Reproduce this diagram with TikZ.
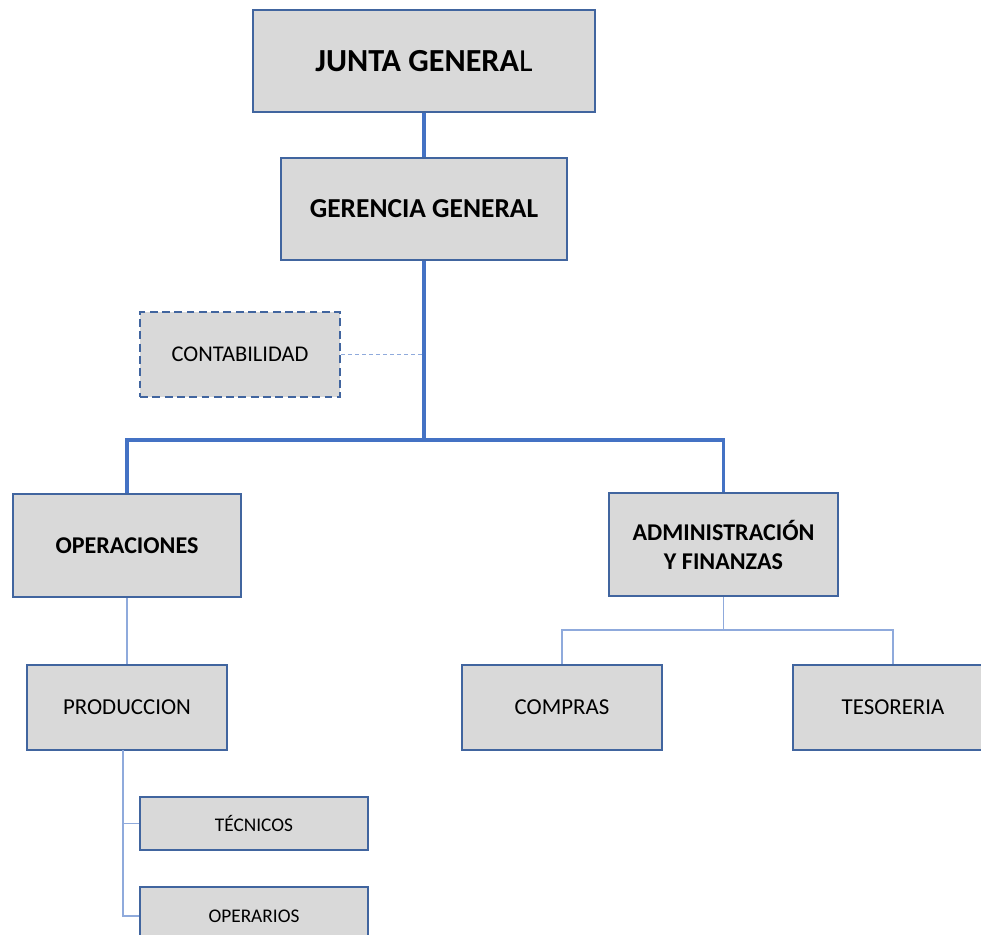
\documentclass[tikz,border=0pt]{standalone}
\usepackage{fontspec}
\setmainfont{Carlito}
\usepackage{xcolor}

\definecolor{boxgray}{HTML}{D9D9D9}
\definecolor{boxblue}{HTML}{41659F}
\definecolor{linkblue}{HTML}{4472C4}
\definecolor{lightblue}{HTML}{8FAADC}

\tikzset{
  unitbox/.style={draw=boxblue,fill=boxgray,line width=1.2pt,inner sep=0pt,align=center},
  mainline/.style={linkblue,line width=1.9pt},
  subline/.style={lightblue,line width=0.8pt},
  dotline/.style={lightblue,line width=0.7pt,dash pattern=on 2pt off 2pt}
}

\begin{document}
\begin{tikzpicture}[x=0.02cm,y=-0.02cm]
%\draw[step=50,gray,very thin] (0,0) grid (981,934); %background grid
\useasboundingbox (0,0) rectangle (981,934);
\clip (0,0) rectangle (981,934);

% top levels
\node[unitbox,minimum width=6.84cm,minimum height=2.04cm,font=\fontsize{18.3}{21}\selectfont] (junta) at (424,61) {{\bfseries JUNTA GENERA}L};
\node[unitbox,minimum width=5.72cm,minimum height=2.04cm,font=\fontsize{15.6}{18}\selectfont\bfseries] (gerencia) at (424,209) {GERENCIA GENERAL};
\node[unitbox,dash pattern=on 4.5pt off 2.5pt,minimum width=4cm,minimum height=1.7cm,font=\fontsize{12.8}{15}\selectfont] (conta) at (240,354.5) {CONTABILIDAD};

% second level
\node[unitbox,minimum width=4.56cm,minimum height=2.06cm,font=\fontsize{13.7}{16}\selectfont\bfseries] (ops) at (127,545.5) {OPERACIONES};
\node[unitbox,minimum width=4.58cm,minimum height=2.06cm,font=\fontsize{13.7}{16.5}\selectfont\bfseries] (admin) at (723.5,544.5) {ADMINISTRACIÓN\\Y FINANZAS};

% third level
\node[unitbox,minimum width=4cm,minimum height=1.7cm,font=\fontsize{13}{15}\selectfont] (prod) at (127,707.5) {PRODUCCION};
\node[unitbox,minimum width=4cm,minimum height=1.7cm,font=\fontsize{13}{15}\selectfont] (compras) at (562,707.5) {COMPRAS};
\node[unitbox,minimum width=4cm,minimum height=1.7cm,font=\fontsize{13}{15}\selectfont] (teso) at (893,707.5) {TESORERIA};

% fourth level
\node[unitbox,minimum width=4.56cm,minimum height=1.06cm,font=\fontsize{11}{13}\selectfont] (tecnicos) at (254,823.5) {TÉCNICOS};
\node[unitbox,minimum width=4.56cm,minimum height=1.16cm,font=\fontsize{11}{13}\selectfont] (operarios) at (254,916) {OPERARIOS};

% connectors
\coordinate (busL) at (127,440);
\coordinate (busR) at (723.5,440);
\coordinate (bus) at (gerencia.south |- busL);
\coordinate (splitA) at (723.5,630);
\coordinate (splitL) at (562,630);
\coordinate (splitR) at (893,630);
\coordinate (trunkP) at (123,750);

\draw[mainline] (junta) -- (gerencia);
\draw[mainline] (gerencia.south) -- (bus);
\draw[mainline] (ops.north) -- (busL) -- (busR) -- (admin.north);
\draw[dotline] (conta.east) -- (conta.east -| bus);

\draw[subline] (ops.south) -- (prod.north);
\draw[subline] (admin.south) -- (splitA);
\draw[subline] (compras.north) -- (splitL) -- (splitR) -- (teso.north);
\draw[subline] (trunkP) |- (tecnicos.west);
\draw[subline] (trunkP) |- (operarios.west);

\end{tikzpicture}
\end{document}
